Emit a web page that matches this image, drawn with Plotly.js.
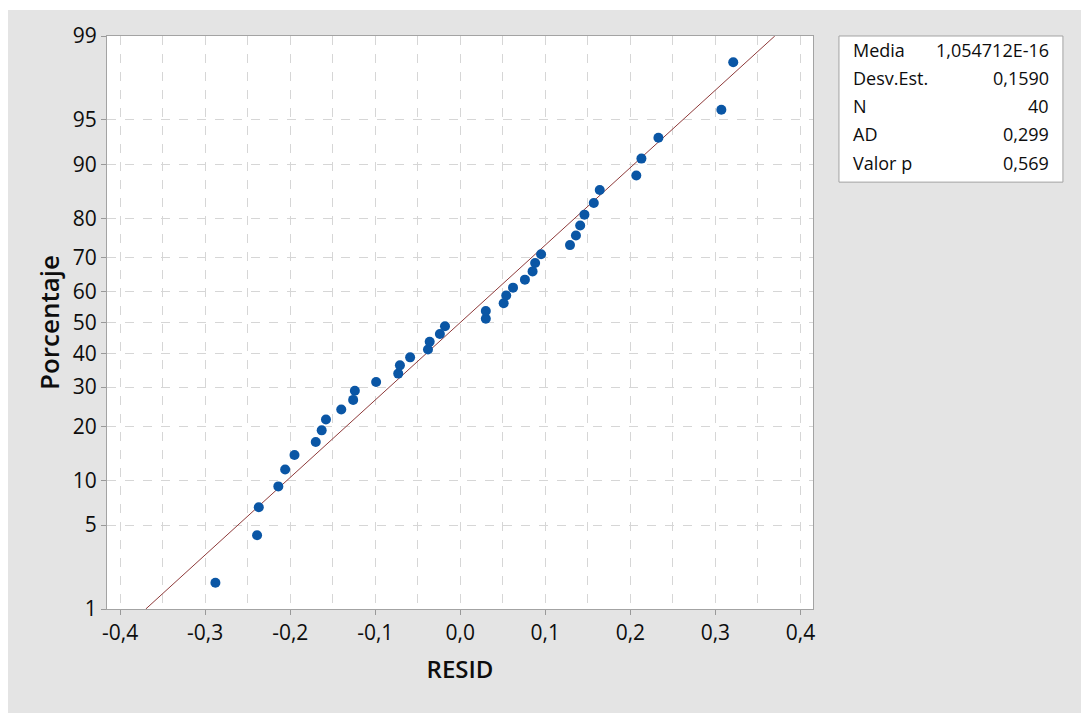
<!DOCTYPE html>
<html>
<head>
<meta charset="utf-8">
<script src="https://cdn.plot.ly/plotly-3.0.1.min.js"></script>
<style>
  html, body { margin: 0; padding: 0; background: #ffffff; }
  #chart { position: absolute; left: 8px; top: 10px; width: 1073px; height: 703px; }
</style>
</head>
<body>
<div id="chart"></div>
<script>
// Residuals (x), in rank order
const resid = [-0.288, -0.239, -0.237, -0.214, -0.206, -0.195, -0.170, -0.163, -0.158, -0.140,
               -0.126, -0.124, -0.099, -0.073, -0.071, -0.059, -0.038, -0.036, -0.024, -0.018,
                0.030,  0.030,  0.051,  0.054,  0.062,  0.076,  0.085,  0.088,  0.095,  0.129,
                0.136,  0.141,  0.146,  0.157,  0.164,  0.207,  0.213,  0.233,  0.307,  0.321];
// Plotting percentages
const percent = [1.73, 4.21, 6.68, 9.16, 11.63, 14.11, 16.58, 19.06, 21.53, 24.01,
                 26.49, 28.96, 31.44, 33.91, 36.39, 38.86, 41.34, 43.81, 46.29, 48.76,
                 51.24, 53.71, 56.19, 58.66, 61.14, 63.61, 66.09, 68.56, 71.04, 73.51,
                 75.99, 78.47, 80.94, 83.42, 85.89, 88.37, 90.84, 93.32, 95.79, 98.27];
// Axis ticks
const yTickPercent = [1, 5, 10, 20, 30, 40, 50, 60, 70, 80, 90, 95, 99];
const xTickVals = [-0.4, -0.3, -0.2, -0.1, 0.0, 0.1, 0.2, 0.3, 0.4];
const xTickText = ['-0,4', '-0,3', '-0,2', '-0,1', '0,0', '0,1', '0,2', '0,3', '0,4'];
// Summary statistics
const statLabels = ['Media', 'Desv.Est.', 'N', 'AD', 'Valor p'];
const statValues = ['1,054712E-16', '0,1590', '40', '0,299', '0,569'];
const fitMean = 1.054712e-16;
const fitSD = 0.1590;
// fitted line spans the probability range of the axis
const linePercent = [1, 99];

// inverse standard normal CDF (Acklam)
function normInv(p) {
  const a = [-3.969683028665376e+01, 2.209460984245205e+02, -2.759285104469687e+02,
             1.383577518672690e+02, -3.066479806614716e+01, 2.506628277459239e+00];
  const b = [-5.447609879822406e+01, 1.615858368580409e+02, -1.556989798598866e+02,
             6.680131188771972e+01, -1.328068155288572e+01];
  const c = [-7.784894002430293e-03, -3.223964580411365e-01, -2.400758277161838e+00,
             -2.549732539343734e+00, 4.374664141464968e+00, 2.938163982698783e+00];
  const d = [7.784695709041462e-03, 3.224671290700398e-01, 2.445134137142996e+00,
             3.754408661907416e+00];
  const pl = 0.02425, ph = 1 - pl;
  let q, r;
  if (p < pl) {
    q = Math.sqrt(-2 * Math.log(p));
    return (((((c[0]*q+c[1])*q+c[2])*q+c[3])*q+c[4])*q+c[5]) /
           ((((d[0]*q+d[1])*q+d[2])*q+d[3])*q+1);
  } else if (p <= ph) {
    q = p - 0.5; r = q * q;
    return (((((a[0]*r+a[1])*r+a[2])*r+a[3])*r+a[4])*r+a[5])*q /
           (((((b[0]*r+b[1])*r+b[2])*r+b[3])*r+b[4])*r+1);
  } else {
    q = Math.sqrt(-2 * Math.log(1 - p));
    return -(((((c[0]*q+c[1])*q+c[2])*q+c[3])*q+c[4])*q+c[5]) /
            ((((d[0]*q+d[1])*q+d[2])*q+d[3])*q+1);
  }
}
const z = pc => normInv(pc / 100);

const font = '"Open Sans", "Noto Sans", sans-serif';
const textColor = '#0d0d0d';

const lineZ = linePercent.map(z);
const fitLine = {
  x: lineZ.map(v => fitMean + fitSD * v),
  y: lineZ,
  mode: 'lines',
  type: 'scatter',
  line: { color: '#8e3a3a', width: 1 },
  hoverinfo: 'skip',
  showlegend: false
};
const points = {
  x: resid,
  y: percent.map(z),
  mode: 'markers',
  type: 'scatter',
  marker: { color: '#0a56a5', size: 10 },
  text: percent.map(p => p.toFixed(1) + '%'),
  showlegend: false
};

// stats box annotations
const annotations = [];
statLabels.forEach((lab, i) => {
  annotations.push({
    xref: 'paper', yref: 'paper', x: 1.054, y: 0.976 - i * 0.0493,
    xanchor: 'left', yanchor: 'middle', text: lab, showarrow: false,
    font: { family: font, size: 18, color: textColor }
  });
  annotations.push({
    xref: 'paper', yref: 'paper', x: 1.337, y: 0.976 - i * 0.0493,
    xanchor: 'right', yanchor: 'middle', text: statValues[i], showarrow: false,
    font: { family: font, size: 18, color: textColor }
  });
});

const gridColor = '#d6d6d6';
const layout = {
  width: 1073, height: 703,
  paper_bgcolor: '#e4e4e4',
  plot_bgcolor: '#ffffff',
  margin: { l: 99, r: 268, t: 26, b: 104 },
  font: { family: font, color: textColor, size: 20 },
  xaxis: {
    range: [-0.4155, 0.4148],
    tickvals: xTickVals, ticktext: xTickText,
    ticks: 'outside', ticklen: 5, tickcolor: '#999999',
    showgrid: true, gridcolor: gridColor, griddash: 'dash', gridwidth: 1,
    minor: { dtick: 0.05, tick0: 0, showgrid: true, gridcolor: gridColor, griddash: 'dash', ticks: '' },
    showline: true, linecolor: '#a3a3a3', mirror: true,
    zeroline: false,
    tickfont: { family: font, size: 21, color: textColor },
    title: { text: 'RESID', font: { family: font, size: 24, color: textColor, weight: 600 }, standoff: 15 }
  },
  yaxis: {
    range: [z(1), z(99)],
    tickvals: yTickPercent.map(z), ticktext: yTickPercent.map(String),
    ticks: 'outside', ticklen: 5, tickcolor: '#999999',
    showgrid: true, gridcolor: gridColor, griddash: 'dash', gridwidth: 1,
    showline: true, linecolor: '#a3a3a3', mirror: true,
    zeroline: false,
    tickfont: { family: font, size: 21, color: textColor },
    title: { text: 'Porcentaje', font: { family: font, size: 26, color: textColor, weight: 600 }, standoff: 5 }
  },
  shapes: [{
    type: 'rect', xref: 'paper', yref: 'paper',
    x0: 1.0368, x1: 1.354, y0: 0.745, y1: 1.0,
    line: { color: '#a3a3a3', width: 1 }, fillcolor: '#ffffff', layer: 'below'
  }],
  annotations: annotations,
  showlegend: false
};

Plotly.newPlot('chart', [fitLine, points], layout, { displayModeBar: false, staticPlot: true });
</script>
</body>
</html>
